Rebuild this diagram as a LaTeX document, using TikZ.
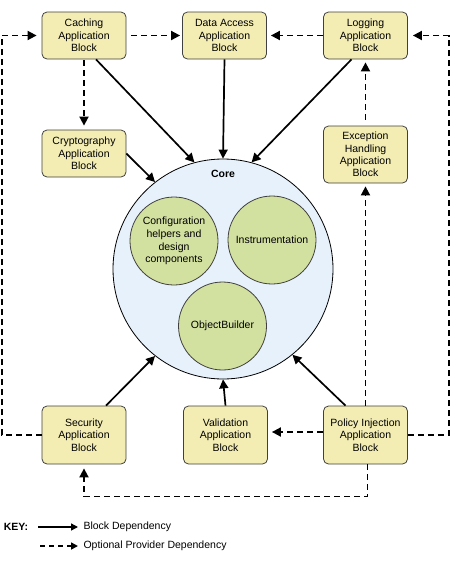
\documentclass[tikz,border=0pt]{standalone}
\usepackage{fontspec}
\setmainfont{Liberation Sans}
\usetikzlibrary{arrows.meta}

\definecolor{blockfill}{RGB}{243,237,180}
\definecolor{corefill}{RGB}{231,241,251}
\definecolor{partfill}{RGB}{210,224,160}

\begin{document}
\begin{tikzpicture}[x=1pt,y=-1pt,
        block/.style={draw=black!75, line width=0.8pt, fill=blockfill, rounded corners=5pt,
            minimum width=84pt, minimum height=47pt, inner sep=1pt, align=center,
            font=\fontsize{10.5}{12.3}\selectfont},
        part/.style={circle, draw=black!75, line width=0.8pt, fill=partfill, minimum size=88pt,
            inner sep=1pt, align=center, font=\fontsize{10.5}{12.6}\selectfont},
        dep/.style={line width=1.7pt, -{Triangle[length=9pt,width=9pt]}},
        optdep/.style={line width=1.8pt, dash pattern=on 6pt off 4pt, -{Triangle[length=9pt,width=9pt]}}]
            \useasboundingbox (0,0) rectangle (450,563);

            \node[circle, draw=black, line width=0.8pt, fill=corefill, minimum size=220pt] (core) at (223,269) {};
            \node[font=\fontsize{10.5}{12}\selectfont\bfseries] (corelabel) at (223,174) {Core};
            \node[part] (config) at (174,241) {Configuration\\helpers and\\design\\components};
            \node[part] (instr) at (272,240) {Instrumentation};
            \node[part] (objbuilder) at (222.5,326) {ObjectBuilder};

            \node[block] (caching) at (84,35.5) {Caching\\Application\\Block};
            \node[block] (dataaccess) at (224.5,35.5) {Data Access\\Application\\Block};
            \node[block] (logging) at (365.5,35.5) {Logging\\Application\\Block};
            \node[block] (crypto) at (84,153.5) {Cryptography\\Application\\Block};
            \node[block, minimum height=57pt] (exception) at (365.5,154.5) {Exception\\Handling\\Application\\Block};
            \node[block, minimum height=58pt] (security) at (84,435) {Security\\Application\\Block};
            \node[block, minimum height=58pt] (validation) at (225.5,435) {Validation\\Application\\Block};
            \node[block, minimum height=58pt] (policy) at (365.5,435) {Policy Injection\\Application\\Block};

            \draw[dep] ([xshift=12pt]caching.south) -- (core.105);
            \draw[dep] (dataaccess.south) -- (core.90);
            \draw[dep] ([xshift=-14pt]logging.south) -- (core.75);
            \draw[dep] (crypto.east) -- (core.128);
            \draw[dep] ([xshift=22pt]security.north) -- (core.232);
            \draw[dep] (validation.north) -- (core.270);
            \draw[dep] ([xshift=-20pt]policy.north) -- (core.309);

            \draw[optdep, shorten <=5pt, shorten >=2pt] (caching.east) -- (dataaccess.west);
            \draw[optdep, shorten >=4pt] (logging.west) -- (dataaccess.east);
            \draw[optdep, shorten <=1pt, shorten >=4pt] (caching.south) -- (crypto.north);
            \draw[optdep, shorten <=6pt, shorten >=3pt] (exception.north) -- (logging.south);
            \draw[optdep, shorten >=3pt] (policy.north) -- (exception.south);
            \draw[optdep, shorten >=5pt] (security.west) -- ++(-40,0) |- (caching.west);
            \draw[optdep, shorten >=5pt] (policy.east) -- ++(41,0) |- (logging.east);
            \draw[optdep, shorten >=4pt] ([yshift=3pt]policy.west) -- ([yshift=3pt]validation.east);
            \draw[optdep, shorten >=4pt] ([xshift=2pt]policy.south) -- ++(0,32) -| (security.south);

            \coordinate (keya) at (38,527);
            \coordinate (keyb) at (78,527);
            \coordinate (keyc) at (40,546);
            \coordinate (keyd) at (78,546);
            \node[font=\fontsize{10.5}{12}\selectfont\bfseries] (key) at (16,527) {KEY:};
            \draw[line width=1.4pt, -{Triangle[length=7pt,width=7pt]}] (keya) -- (keyb);
            \draw[line width=1.6pt, dash pattern=on 5pt off 4pt, -{Triangle[length=7pt,width=7pt]}] (keyc) -- (keyd);
            \node[right, font=\fontsize{10.5}{12}\selectfont] (blockdep) at (80,527) {Block Dependency};
            \node[right, font=\fontsize{10.5}{12}\selectfont] (optdep) at (80,546) {Optional Provider Dependency};
        \end{tikzpicture}
\end{document}
